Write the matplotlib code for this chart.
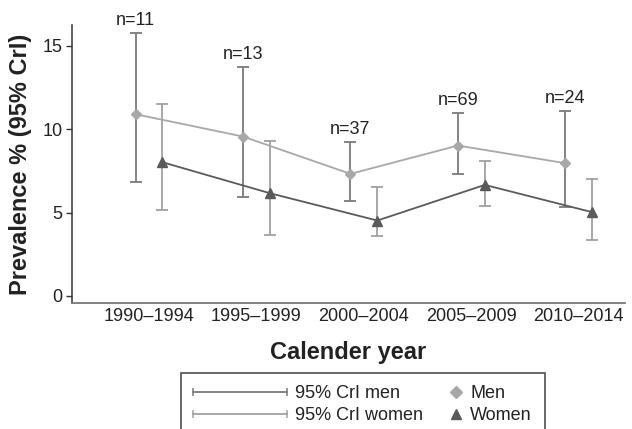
import numpy as np
import matplotlib
matplotlib.use("Agg")
import matplotlib.pyplot as plt
from matplotlib.lines import Line2D
from matplotlib.legend_handler import HandlerLine2D

plt.rcParams['font.family'] = ['Liberation Sans', 'DejaVu Sans']

# dane
periods = ["1990–1994", "1995–1999", "2000–2004", "2005–2009", "2010–2014"]
n_labels = ["n=11", "n=13", "n=37", "n=69", "n=24"]

men = [10.9, 9.56, 7.32, 9.02, 7.96]
men_low = [6.82, 5.96, 5.72, 7.32, 5.32]
men_high = [15.8, 13.76, 9.22, 10.96, 11.08]

women = [8.02, 6.16, 4.52, 6.66, 5.02]
women_low = [5.14, 3.64, 3.62, 5.42, 3.36]
women_high = [11.5, 9.28, 6.56, 8.1, 7.02]

c_men = '#a8a8a8'
c_women = '#5a5a5a'
c_err_men = '#7a7a7a'
c_err_women = '#a0a0a0'


class MarkerRight(HandlerLine2D):
    # marker po prawej stronie pola legendy
    def get_xdata(self, legend, xdescent, ydescent, width, height, fontsize):
        xm = -xdescent + width - 0.35 * fontsize
        return np.array([xm, xm]), np.array([xm])


x = np.arange(len(periods))
off = 0.125
xm = x - off
xw = x + off
men = np.array(men)
women = np.array(women)

fig = plt.figure(figsize=(6.32, 4.29), dpi=100)
ax = fig.add_axes([0.114, 0.294, 0.875, 0.648])

ax.errorbar(xm, men, yerr=[men - np.array(men_low), np.array(men_high) - men],
            fmt='none', ecolor=c_err_men, elinewidth=1.3, capsize=4, capthick=1.3, zorder=2)
ax.errorbar(xw, women, yerr=[women - np.array(women_low), np.array(women_high) - women],
            fmt='none', ecolor=c_err_women, elinewidth=1.3, capsize=4, capthick=1.3, zorder=2)
ax.plot(xm, men, color=c_men, lw=1.3, marker='D', ms=5.5, zorder=3)
ax.plot(xw, women, color=c_women, lw=1.3, marker='^', ms=7, zorder=3)

for xi, hi, lab in zip(xm, men_high, n_labels):
    ax.annotate(lab, (xi, hi), xytext=(0, 9), textcoords='offset points',
                ha='center', va='center', fontsize=13, color='#222222')

ax.set_xlim(-0.716, 4.43)
ax.set_ylim(-0.42, 16.26)
ax.set_xticks(x)
ax.set_xticklabels(periods)
ax.set_yticks([0, 5, 10, 15])
ax.tick_params(axis='x', length=0, pad=4, labelsize=13, labelcolor='#222222')
ax.tick_params(axis='y', length=4, width=1, pad=3, labelsize=13, labelcolor='#222222', color='#333333')
for s in ['top', 'right']:
    ax.spines[s].set_visible(False)
ax.spines['left'].set_color('#333333')
ax.spines['bottom'].set_color('#777777')
ax.spines['left'].set_linewidth(1.1)
ax.spines['bottom'].set_linewidth(1.3)

ax.set_xlabel("Calender year", fontsize=17, fontweight='bold', labelpad=11, color='#222222')
ax.set_ylabel("Prevalence % (95% CrI)", fontsize=17, fontweight='bold', labelpad=7, color='#222222')

h_cri_men = Line2D([], [], color=c_err_men, lw=1.3, marker='|', ms=6, mew=1.1)
h_cri_women = Line2D([], [], color=c_err_women, lw=1.3, marker='|', ms=6, mew=1.1)
h_men = Line2D([], [], color=c_men, ls='none', marker='D', ms=6)
h_women = Line2D([], [], color=c_women, ls='none', marker='^', ms=7)

hmap = {h_cri_men: HandlerLine2D(numpoints=2, marker_pad=0),
        h_cri_women: HandlerLine2D(numpoints=2, marker_pad=0),
        h_men: MarkerRight(numpoints=1),
        h_women: MarkerRight(numpoints=1)}

leg = fig.legend([h_cri_men, h_cri_women, h_men, h_women],
                 ["95% CrI men", "95% CrI women", "Men", "Women"],
                 handler_map=hmap, ncol=2, loc='upper left',
                 bbox_to_anchor=(0.286, 0.131), borderaxespad=0,
                 fontsize=13, handlelength=5.2, handletextpad=0.45,
                 columnspacing=-3.05, labelspacing=0.25, borderpad=0.7,
                 fancybox=False, frameon=True)
leg.get_frame().set_edgecolor('#222222')
leg.get_frame().set_linewidth(1.2)
for t in leg.get_texts():
    t.set_color('#222222')

fig.savefig("out.png", dpi=100)
